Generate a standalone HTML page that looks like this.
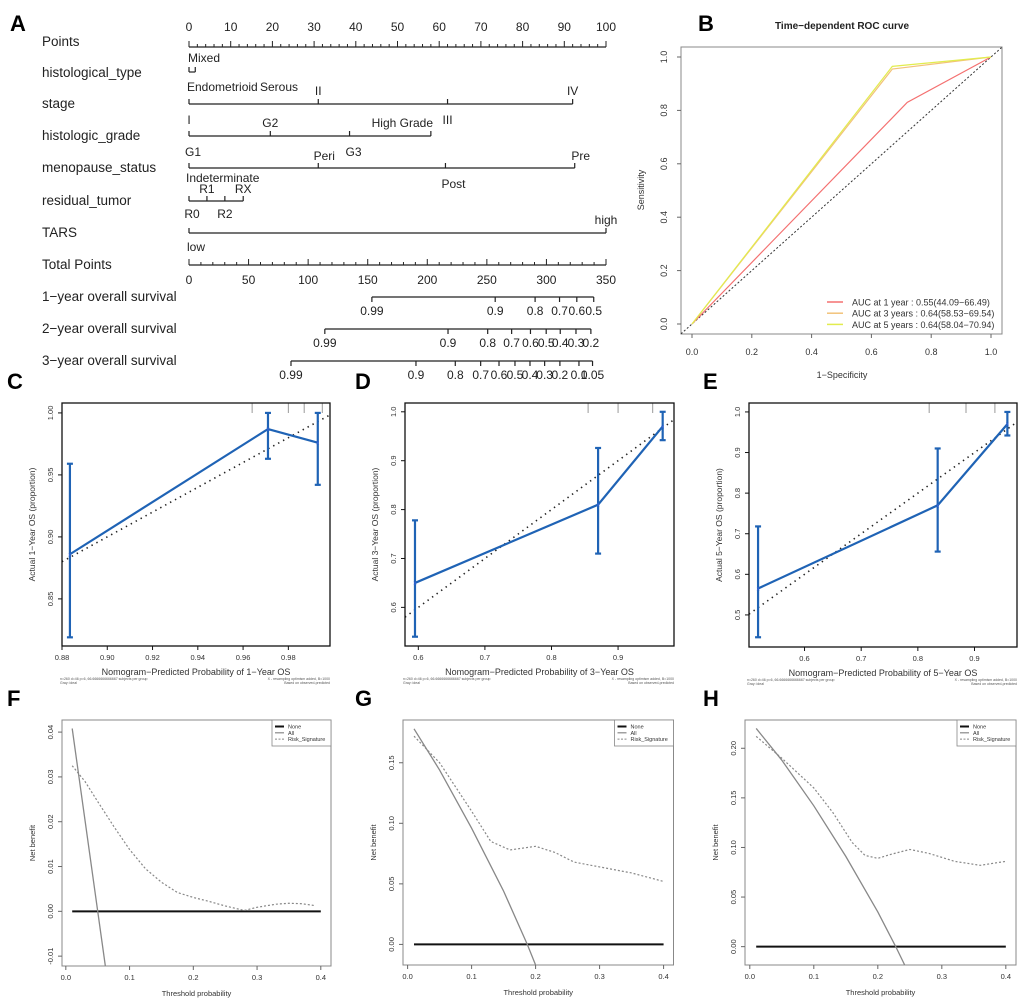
<!DOCTYPE html>
<html><head><meta charset="utf-8"><style>
html,body{margin:0;padding:0;background:#fff;}
svg{display:block;font-family:"Liberation Sans",Arial,sans-serif;}
</style></head><body>
<svg id="fig" width="1020" height="1002" viewBox="0 0 1020 1002"></svg>
<script>
// ===== Nomogram data =====
const nomoPointTicks=[0,10,20,30,40,50,60,70,80,90,100];
const nomoTotalTicks=[0,50,100,150,200,250,300,350];
const surv1Labels=['0.99','0.9','0.8','0.7','0.6','0.5'];
const surv1Total=[153.5,257,290.5,311,325.5,339.7];
const surv2Labels=['0.99','0.9','0.8','0.7','0.6','0.5','0.4','0.3','0.2'];
const surv2Total=[114,217.4,250.7,270.8,286.6,299.8,311.6,324.8,337.3];
const surv3Labels=['0.99','0.9','0.8','0.7','0.6','0.5','0.4','0.3','0.2','0.1','0.05'];
const surv3Total=[85.6,190.5,223.5,244.8,260.2,273.6,286.2,298.5,311.3,327.3,338.7];
// ===== ROC data =====
const rocFpr1=[0,0.72,1], rocTpr1=[0,0.83,1];
const rocFpr3=[0,0.67,1], rocTpr3=[0,0.955,1];
const rocFpr5=[0,0.67,1], rocTpr5=[0,0.965,1];
const rocLegend=['AUC at 1 year : 0.55(44.09\u221266.49)','AUC at 3 years : 0.64(58.53\u221269.54)','AUC at 5 years : 0.64(58.04\u221270.94)'];
// ===== Calibration data =====
const cPred=[0.8835,0.971,0.993], cObs=[0.886,0.987,0.976], cLo=[0.819,0.963,0.942], cHi=[0.959,1.0,1.0];
const cRug=[0.964,0.98,0.987,0.995];
const dPred=[0.595,0.87,0.967], dObs=[0.65,0.81,0.97], dLo=[0.54,0.71,0.942], dHi=[0.778,0.926,1.0];
const dRug=[0.855,0.9,0.952];
const ePred=[0.518,0.835,0.958], eObs=[0.565,0.77,0.97], eLo=[0.445,0.656,0.942], eHi=[0.718,0.91,1.0];
const eRug=[0.82,0.885,0.936];
// ===== DCA data =====
const fT=[0.01,0.062], fAll=[0.0408,-0.0122];
const fRiskT=[0.01,0.03,0.05,0.075,0.1,0.125,0.15,0.175,0.2,0.225,0.25,0.28,0.3,0.33,0.35,0.37,0.39];
const fRisk=[0.0325,0.029,0.0245,0.019,0.0138,0.0095,0.0065,0.0042,0.0031,0.0022,0.0012,0.0002,0.0009,0.0016,0.0018,0.0017,0.0013];
const gT=[0.01,0.05,0.1,0.15,0.187,0.2], gAll=[0.178,0.144,0.096,0.044,0.0,-0.017];
const gRiskT=[0.01,0.05,0.1,0.13,0.16,0.2,0.23,0.26,0.3,0.35,0.4];
const gRisk=[0.172,0.15,0.11,0.085,0.078,0.081,0.076,0.068,0.064,0.059,0.052];
const hT=[0.01,0.05,0.1,0.15,0.2,0.228,0.242], hAll=[0.220,0.188,0.142,0.091,0.035,0.0,-0.0185];
const hRiskT=[0.01,0.05,0.1,0.13,0.16,0.18,0.2,0.22,0.25,0.28,0.32,0.36,0.4];
const hRisk=[0.212,0.19,0.16,0.135,0.105,0.092,0.089,0.093,0.098,0.094,0.086,0.082,0.086];

const NS='http://www.w3.org/2000/svg';
const svg=document.getElementById('fig');
function mk(tag,attrs,parent){const e=document.createElementNS(NS,tag);for(const k in attrs)e.setAttribute(k,attrs[k]);(parent||svg).appendChild(e);return e;}
function tx(s,attrs,parent){const e=mk('text',attrs,parent);e.textContent=s;return e;}
function line(x1,y1,x2,y2,st,w,p){return mk('line',{x1:x1,y1:y1,x2:x2,y2:y2,stroke:st,'stroke-width':w},p);}

// ===== Panel letters =====
const letters=[['A',10,31],['B',698,31],['C',7,389],['D',355,389],['E',703,389],['F',7,706],['G',355,706],['H',703,706]];
letters.forEach(L=>{
  const t=tx(L[0],{x:L[1],y:L[2],'font-size':22,'font-weight':'bold',fill:'#000'});
  
  
});

// ===== Nomogram =====
const nomo=mk('g',{});


const px=p=>189+p*4.17;
const tpx=t=>189+t*417/350;
const NC='#222';
const varLabels=[['Points',46],['histological_type',77],['stage',108],['histologic_grade',140],['menopause_status',172],['residual_tumor',205],['TARS',237],['Total Points',269],['1\u2212year overall survival',301],['2\u2212year overall survival',333],['3\u2212year overall survival',365]];
varLabels.forEach(v=>{
  const t=tx(v[0],{x:42,y:v[1],'font-size':13.5,fill:NC},nomo);
  
  
});
// Points axis
line(px(0),47,px(100),47,NC,1.2,nomo);
for(let p=0;p<=100;p+=2){line(px(p),47,px(p),p%10===0?41:44,NC,1,nomo);}
nomoPointTicks.forEach(p=>{
  const t=tx(String(p),{x:px(p),y:31,'font-size':12,'text-anchor':'middle',fill:NC},nomo);
  
  
});
// categorical rows
function catRow(y,p0,p1,ticks,labels){
  line(px(p0),y,px(p1),y,NC,1.2,nomo);
  ticks.forEach(p=>line(px(p),y,px(p),y-5,NC,1.2,nomo));
  labels.forEach(l=>{
    const t=tx(l[0],{x:l[1],y:l[2],'font-size':12,'text-anchor':l[3]||'middle',fill:NC},nomo);
    
    
  });
}
catRow(72,0,1.5,[0,1.5],[['Mixed',188,62,'start'],['Endometrioid',187,91,'start'],['Serous',260,91,'start']]);
catRow(104,0,92,[0,31,62,92],[['I',px(0),124],['II',px(31),95],['III',px(62),124],['IV',px(92),95]]);
catRow(136,0,58,[0,19.5,38.5,58],[['G1',px(0)+4,156],['G2',px(19.5),127],['G3',px(38.5)+4,156],['High Grade',433,127,'end']]);
catRow(168,0,92.5,[0,31,61.5,92.5],[['Peri',px(31)+6,160],['Pre',px(92.5)+6,160],['Indeterminate',186,182,'start'],['Post',px(61.5)+8,188]]);
catRow(201,0,13,[0,4.3,8.6,13],[['R1',px(4.3),193],['RX',px(13),193],['R0',px(0)+3,218],['R2',px(8.6),218]]);
catRow(233,0,100,[0,100],[['high',606,224,'middle'],['low',187,251,'start']]);
// Total points
line(tpx(0),265,tpx(350),265,NC,1.2,nomo);
for(let t=0;t<=350;t+=10){line(tpx(t),265,tpx(t),t%50===0?259:262,NC,1,nomo);}
nomoTotalTicks.forEach(v=>{
  const t=tx(String(v),{x:tpx(v),y:284,'font-size':12,'text-anchor':'middle',fill:NC},nomo);
  
  
});
function survRow(y,tot,labs,nm){
  line(tpx(tot[0]),y,tpx(tot[tot.length-1]),y,NC,1.2,nomo);
  tot.forEach((v,i)=>{
    line(tpx(v),y,tpx(v),y+5,NC,1.2,nomo);
    const t=tx(labs[i],{x:tpx(v),y:y+18,'font-size':12,'text-anchor':'middle',fill:NC},nomo);
    
    
  });
}
survRow(297,surv1Total,surv1Labels,'survival-1yr');
survRow(329,surv2Total,surv2Labels,'survival-2yr');
survRow(361,surv3Total,surv3Labels,'survival-3yr');

// ===== ROC =====
const roc=mk('g',{});


const rx=v=>692+v*299, ry=v=>324-v*267;
const rt=tx('Time\u2212dependent ROC curve',{x:842,y:29,'font-size':10,'font-weight':'bold','text-anchor':'middle',fill:'#222'},roc);


const rb=mk('rect',{x:681,y:47,width:321,height:287,fill:'none',stroke:'#888','stroke-width':1},roc);


[0,0.2,0.4,0.6,0.8,1].forEach(v=>{
  line(rx(v),334,rx(v),338,'#666',1,roc);
  const a=tx(v.toFixed(1),{x:rx(v),y:355,'font-size':9,'text-anchor':'middle',fill:'#333'},roc);
  
  
  line(677,ry(v),681,ry(v),'#666',1,roc);
  const b=tx(v.toFixed(1),{x:667,y:ry(v),'font-size':9,'text-anchor':'middle',fill:'#333',transform:`rotate(-90 667 ${ry(v)})`},roc);
  
  
});
const rxl=tx('1\u2212Specificity',{x:842,y:378,'font-size':9,'text-anchor':'middle',fill:'#333'},roc);


const ryl=tx('Sensitivity',{x:644,y:190,'font-size':9,'text-anchor':'middle',fill:'#333',transform:'rotate(-90 644 190)'},roc);


const diag=line(rx(-0.037),ry(-0.037),rx(1.035),ry(1.035),'#333',1,roc);
diag.setAttribute('stroke-dasharray','2,2');


function rocLine(f,t,c,nm){
  const p=mk('polyline',{points:f.map((v,i)=>rx(v)+','+ry(t[i])).join(' '),fill:'none',stroke:c,'stroke-width':1.2},roc);
  
  
}
rocLine(rocFpr1,rocTpr1,'#f47070','roc-curve-1-year');
rocLine(rocFpr3,rocTpr3,'#f2c27a','roc-curve-3-years');
rocLine(rocFpr5,rocTpr5,'#e2ec4e','roc-curve-5-years');
const rocCols=['#f47070','#f2c27a','#e2ec4e'];
rocLegend.forEach((s,i)=>{
  const y=302+i*11.2;
  line(827,y,843,y,rocCols[i],1.5,roc);
  const t=tx(s,{x:852,y:y+3.5,'font-size':9,fill:'#333'},roc);
  
  
});

// ===== Calibration =====
function calib(c){
  const g=mk('g',{});
  
  
  const X=v=>c.L+(v-c.x0)/(c.x1-c.x0)*(c.R-c.L);
  const Y=v=>c.B-(v-c.y0)/(c.y1-c.y0)*(c.B-c.T);
  c.rug.forEach(v=>line(X(v),c.T,X(v),c.T+10,'#999',1,g));
  const ideal=line(X(c.x0),Y(c.x0),X(c.x1),Y(c.x1),'#222',1.6,g);
  ideal.setAttribute('stroke-dasharray','1.4,4.2');
  
  
  const pl=mk('polyline',{points:c.pred.map((v,i)=>X(v)+','+Y(c.obs[i])).join(' '),fill:'none',stroke:'#1f63b5','stroke-width':2.2},g);
  
  
  c.pred.forEach((v,i)=>{
    const e=line(X(v),Y(c.lo[i]),X(v),Y(c.hi[i]),'#1f63b5',2.2,g);
    
    
    line(X(v)-3,Y(c.lo[i]),X(v)+3,Y(c.lo[i]),'#1f63b5',2.2,g);
    line(X(v)-3,Y(c.hi[i]),X(v)+3,Y(c.hi[i]),'#1f63b5',2.2,g);
    tx('x',{x:X(v),y:Y(c.obs[i])+2,'font-size':6,'text-anchor':'middle',fill:'#3a5fe0'},g);
  });
  const box=mk('rect',{x:c.L,y:c.T,width:c.R-c.L,height:c.B-c.T,fill:'none',stroke:'#111','stroke-width':1.3},g);
  
  
  c.xt.forEach(v=>{
    line(X(v),c.B,X(v),c.B+4,'#111',1,g);
    const t=tx(c.xd(v),{x:X(v),y:c.B+14,'font-size':7.5,'text-anchor':'middle',fill:'#333'},g);
    
    
  });
  c.yt.forEach(v=>{
    line(c.L-4,Y(v),c.L,Y(v),'#111',1,g);
    const t=tx(c.yd(v),{x:c.L-9,y:Y(v),'font-size':7.5,'text-anchor':'middle',fill:'#333',transform:`rotate(-90 ${c.L-9} ${Y(v)})`},g);
    
    
  });
  const xl=tx(c.xlab,{x:(c.L+c.R)/2,y:c.B+29,'font-size':9,'text-anchor':'middle',fill:'#333'},g);
  
  
  const yl=tx(c.ylab,{x:c.L-27,y:(c.T+c.B)/2,'font-size':8.5,'text-anchor':'middle',fill:'#333',transform:`rotate(-90 ${c.L-27} ${(c.T+c.B)/2})`},g);
  
  
  tx('n=260 d=46 p=6, 66.6666666666667 subjects per group',{x:c.L-2,y:c.B+34,'font-size':3.5,fill:'#555'},g);
  tx('Gray: ideal',{x:c.L-2,y:c.B+38,'font-size':3.5,fill:'#555'},g);
  tx('X - resampling optimism added, B=1000',{x:c.R,y:c.B+34,'font-size':3.5,'text-anchor':'end',fill:'#555'},g);
  tx('Based on observed-predicted',{x:c.R,y:c.B+38,'font-size':3.5,'text-anchor':'end',fill:'#555'},g);
}
calib({name:'calibration-1-year',L:62,R:330,T:403,B:646,x0:0.88,x1:0.9984,y0:0.812,y1:1.008,
  pred:cPred,obs:cObs,lo:cLo,hi:cHi,rug:cRug,xt:[0.88,0.9,0.92,0.94,0.96,0.98],yt:[0.85,0.9,0.95,1.0],
  xd:v=>v.toFixed(2),yd:v=>v.toFixed(2),xlab:'Nomogram\u2212Predicted Probability of 1\u2212Year OS',ylab:'Actual 1\u2212Year OS (proportion)'});
calib({name:'calibration-3-year',L:405,R:674,T:403,B:646,x0:0.58,x1:0.984,y0:0.521,y1:1.018,
  pred:dPred,obs:dObs,lo:dLo,hi:dHi,rug:dRug,xt:[0.6,0.7,0.8,0.9],yt:[0.6,0.7,0.8,0.9,1.0],
  xd:v=>v.toFixed(1),yd:v=>v.toFixed(1),xlab:'Nomogram\u2212Predicted Probability of 3\u2212Year OS',ylab:'Actual 3\u2212Year OS (proportion)'});
calib({name:'calibration-5-year',L:749,R:1017,T:403,B:647,x0:0.502,x1:0.975,y0:0.421,y1:1.022,
  pred:ePred,obs:eObs,lo:eLo,hi:eHi,rug:eRug,xt:[0.6,0.7,0.8,0.9],yt:[0.5,0.6,0.7,0.8,0.9,1.0],
  xd:v=>v.toFixed(1),yd:v=>v.toFixed(1),xlab:'Nomogram\u2212Predicted Probability of 5\u2212Year OS',ylab:'Actual 5\u2212Year OS (proportion)'});

// ===== DCA =====
function dca(c){
  const g=mk('g',{});
  
  
  const X=v=>c.L+(v-c.x0)/(c.x1-c.x0)*(c.R-c.L);
  const Y=v=>c.B-(v-c.y0)/(c.y1-c.y0)*(c.B-c.T);
  const clip=mk('clipPath',{id:c.name+'-clip'},g);
  mk('rect',{x:c.L,y:c.T,width:c.R-c.L,height:c.B-c.T},clip);
  const inner=mk('g',{'clip-path':`url(#${c.name}-clip)`},g);
  const none=line(X(0.01),Y(0),X(0.4),Y(0),'#111',2,inner);
  
  
  const all=mk('polyline',{points:c.t.map((v,i)=>X(v)+','+Y(c.all[i])).join(' '),fill:'none',stroke:'#888','stroke-width':1.3},inner);
  
  
  const rk=mk('polyline',{points:c.rt.map((v,i)=>X(v)+','+Y(c.risk[i])).join(' '),fill:'none',stroke:'#888','stroke-width':1.2,'stroke-dasharray':'2,2'},inner);
  
  
  const box=mk('rect',{x:c.L,y:c.T,width:c.R-c.L,height:c.B-c.T,fill:'none',stroke:'#888','stroke-width':1},g);
  
  
  [0,0.1,0.2,0.3,0.4].forEach(v=>{
    line(X(v),c.B,X(v),c.B+4,'#666',1,g);
    const t=tx(v.toFixed(1),{x:X(v),y:c.B+14,'font-size':7.5,'text-anchor':'middle',fill:'#333'},g);
    
    
  });
  c.yt.forEach(v=>{
    line(c.L-4,Y(v),c.L,Y(v),'#666',1,g);
    const t=tx(c.yd(v),{x:c.L-9,y:Y(v),'font-size':7.5,'text-anchor':'middle',fill:'#333',transform:`rotate(-90 ${c.L-9} ${Y(v)})`},g);
    
    
  });
  const xl=tx('Threshold probability',{x:(c.L+c.R)/2,y:c.B+30,'font-size':7.5,'text-anchor':'middle',fill:'#333'},g);
  
  
  const yl=tx('Net benefit',{x:c.L-27,y:(c.T+c.B)/2,'font-size':7.5,'text-anchor':'middle',fill:'#333',transform:`rotate(-90 ${c.L-27} ${(c.T+c.B)/2})`},g);
  
  
  const lg=mk('g',{},g);
  
  
  mk('rect',{x:c.R-59,y:c.T,width:59,height:26,fill:'#fff',stroke:'#888','stroke-width':0.8},lg);
  const ents=[['None','#111',2,''],['All','#888',1.2,''],['Risk_Signature','#888',1,'2,1.5']];
  ents.forEach((e,i)=>{
    const y=c.T+6.5+i*6.3;
    const l=line(c.R-56,y,c.R-47,y,e[1],e[2],lg);
    if(e[3])l.setAttribute('stroke-dasharray',e[3]);
    const t=tx(e[0],{x:c.R-43,y:y+2,'font-size':5.5,fill:'#333'},lg);
    
    
  });
}
dca({name:'dca-f',L:62,R:331,T:720,B:966,x0:-0.006,x1:0.416,y0:-0.0122,y1:0.0427,t:fT,all:fAll,rt:fRiskT,risk:fRisk,
  yt:[-0.01,0,0.01,0.02,0.03,0.04],yd:v=>v.toFixed(2)});
dca({name:'dca-g',L:403,R:673.5,T:720,B:965,x0:-0.0072,x1:0.4155,y0:-0.0170,y1:0.1853,t:gT,all:gAll,rt:gRiskT,risk:gRisk,
  yt:[0,0.05,0.1,0.15],yd:v=>v.toFixed(2)});
dca({name:'dca-h',L:745,R:1016,T:720,B:965,x0:-0.0075,x1:0.4159,y0:-0.0185,y1:0.2285,t:hT,all:hAll,rt:hRiskT,risk:hRisk,
  yt:[0,0.05,0.1,0.15,0.2],yd:v=>v.toFixed(2)});
</script>
</body></html>
